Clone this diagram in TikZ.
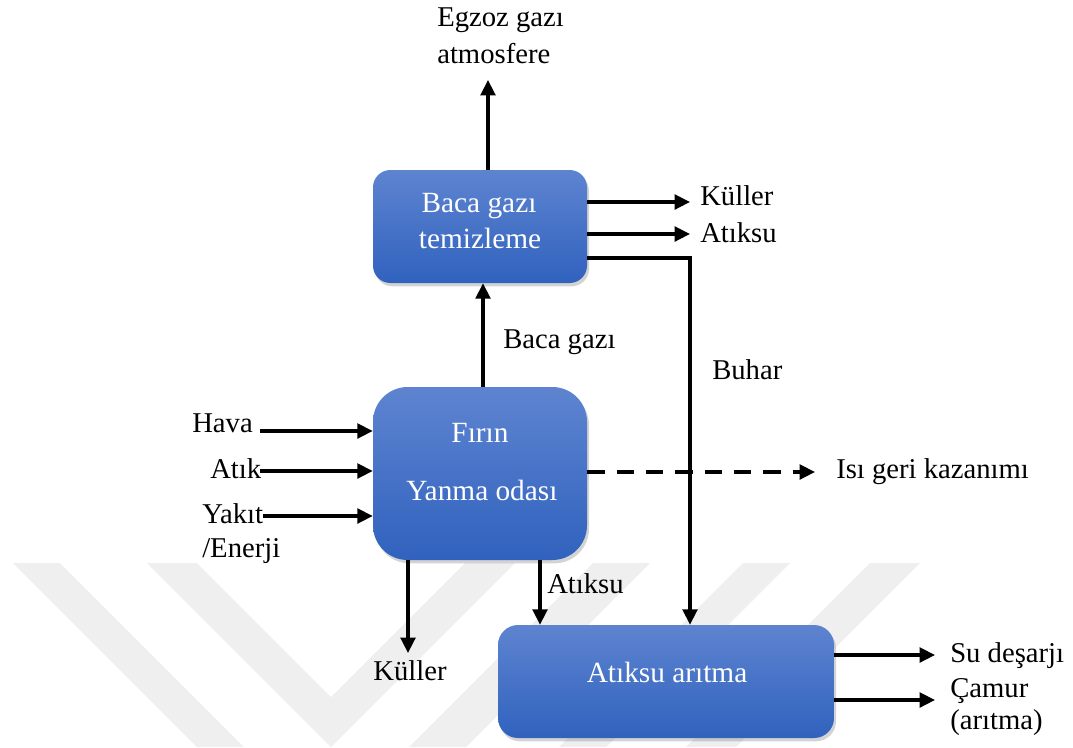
\documentclass[tikz,border=0pt]{standalone}
\usepackage{fontspec}
\setmainfont{Liberation Serif}
\usetikzlibrary{arrows.meta,shadows}
\definecolor{boxtop}{HTML}{5E84D0}
\definecolor{boxbot}{HTML}{3062BE}
\definecolor{wmgray}{HTML}{EFEFEF}
\begin{document}
\begin{tikzpicture}[x=0.75pt,y=-0.75pt,
  every node/.style={font=\fontsize{21.5}{26}\selectfont},
  block/.style={rectangle, top color=boxtop, bottom color=boxbot, draw=none,
    inner sep=0pt, drop shadow={opacity=0.35,shadow xshift=1.5pt,shadow yshift=-2.5pt}},
  lbl/.style={inner sep=0pt, anchor=base west},
  intext/.style={inner sep=0pt, anchor=base, text=white, font=\fontsize{22}{26}\selectfont},
  flow/.style={line width=2.4pt, -{Triangle[length=11.5pt,width=11pt]}},
]
\useasboundingbox (0,0) rectangle (1073,747);

% faint striped background
\begin{scope}
  \clip (0,0) rectangle (1073,747);
  \fill[wmgray] (13,563) -- (60,563) -- (244,747) -- (197,747) -- cycle;
  \fill[wmgray] (147,563) -- (197,563) -- (331,697) -- (465,563) -- (515,563) -- (331,747) -- cycle;
  \fill[wmgray] (593,563) -- (650,563) -- (466,747) -- (409,747) -- cycle;
  \fill[wmgray] (743,563) -- (790,563) -- (606,747) -- (559,747) -- cycle;
  \fill[wmgray] (870,563) -- (920,563) -- (736,747) -- (686,747) -- cycle;
\end{scope}

% process blocks
\node[block, rounded corners=13pt, minimum width=160.5pt, minimum height=84.75pt] (clean) at (480,226.5) {};
\node[block, rounded corners=26pt, minimum width=160.5pt, minimum height=129.75pt] (furnace) at (480,473.5) {};
\node[block, rounded corners=15pt, minimum width=252pt, minimum height=84.75pt] (wwt) at (666,681.5) {};

% block texts
\node[intext] (t1) at (479,212) {Baca gazı};
\node[intext] (t2) at (480,248) {temizleme};
\node[intext] (f1) at (480,442) {Fırın};
\node[intext] (f2) at (482,500) {Yanma odası};
\node[intext] (w1) at (667,682) {Atıksu arıtma};

% labels
\node[lbl] (egz1) at (437,26) {Egzoz gazı};
\node[lbl] (egz2) at (437,63) {atmosfere};
\node[lbl] (k1) at (700,205) {Küller};
\node[lbl] (a1) at (700,242) {Atıksu};
\node[lbl] (bg) at (503,348) {Baca gazı};
\node[lbl] (buh) at (712,379) {Buhar};
\node[lbl] (hava) at (192,432) {Hava};
\node[lbl] (atik) at (210,478) {Atık};
\node[lbl] (yakit) at (202,523) {Yakıt};
\node[lbl] (ener) at (202,557) {/Enerji};
\node[lbl] (isi) at (836,478) {Isı geri kazanımı};
\node[inner sep=0pt, anchor=base] (k2) at (410,680) {Küller};
\node[lbl] (a2) at (547,593) {Atıksu};
\node[lbl] (su) at (950,662) {Su deşarjı};
\node[lbl] (cam) at (950,697) {Çamur};
\node[lbl] (ar) at (950,729) {(arıtma)};

% connector end points
\coordinate (egzE) at (488,80);
\coordinate (bgx) at (483,330);
\coordinate (kulE) at (690,202);
\coordinate (atkE) at (690,234);
\coordinate (steam) at (690,258);
\coordinate (havaS) at (260,431);
\coordinate (atikS) at (260,471);
\coordinate (yakitS) at (263,516);
\coordinate (heatE) at (815,472);
\coordinate (ashE) at (408,653);
\coordinate (wwx) at (540,600);
\coordinate (suE) at (935,655);
\coordinate (camE) at (935,700);

% connectors
\draw[flow] (clean.north -| egzE) -- (egzE);
\draw[flow] (furnace.north -| bgx) -- (clean.south -| bgx);
\draw[flow] (clean.east |- kulE) -- (kulE);
\draw[flow] (clean.east |- atkE) -- (atkE);
\draw[flow] (clean.east |- steam) -- (steam) -- (steam |- wwt.north);
\draw[flow] (havaS) -- (havaS -| furnace.west);
\draw[flow] (atikS) -- (atikS -| furnace.west);
\draw[flow] (yakitS) -- (yakitS -| furnace.west);
\draw[flow, dash pattern=on 13pt off 9pt] (furnace.east |- heatE) -- (heatE);
\draw[flow] (furnace.south -| ashE) -- (ashE);
\draw[flow] (furnace.south -| wwx) -- (wwx |- wwt.north);
\draw[flow] (wwt.east |- suE) -- (suE);
\draw[flow] (wwt.east |- camE) -- (camE);
\end{tikzpicture}
\end{document}
